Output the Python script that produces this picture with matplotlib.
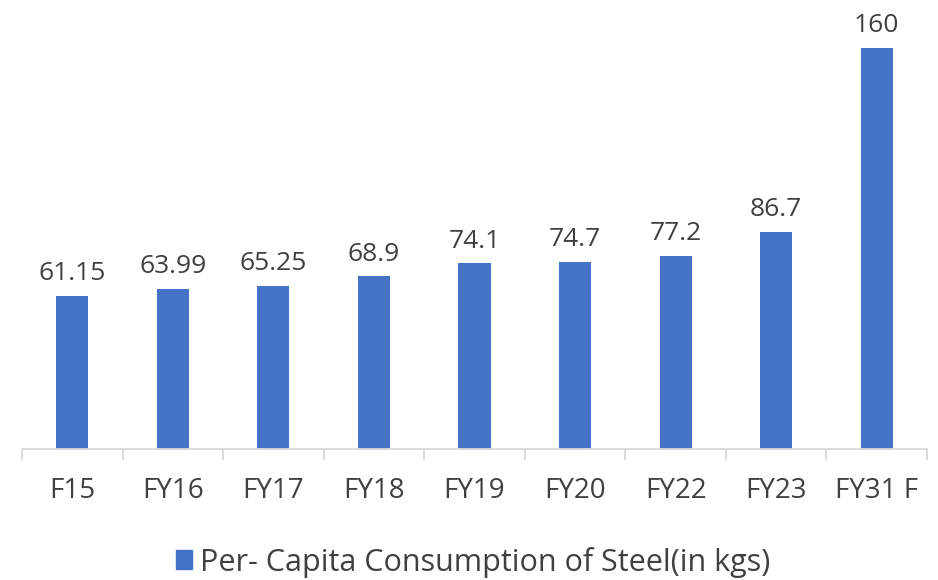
import matplotlib.pyplot as plt
import numpy as np
from matplotlib.patches import Patch

categories = ['F15', 'FY16', 'FY17', 'FY18', 'FY19', 'FY20', 'FY22', 'FY23', 'FY31 F']
values = [61.15, 63.99, 65.25, 68.9, 74.1, 74.7, 77.2, 86.7, 160]
labels = ['61.15', '63.99', '65.25', '68.9', '74.1', '74.7', '77.2', '86.7', '160']
series_name = 'Per- Capita Consumption of Steel(in kgs)'

bar_color = '#4472C4'
text_color = '#404040'
grid_color = '#D9D9D9'

plt.rcParams['font.family'] = ['Open Sans', 'DejaVu Sans']

fig = plt.figure(figsize=(9.38, 5.8), dpi=100)
ax = fig.add_axes([22 / 938, 1 - 449 / 580, 905 / 938, 449 / 580])

x = np.arange(len(categories))
ax.bar(x, values, width=0.32, color=bar_color)
for xi, v, lab in zip(x, values, labels):
    ax.annotate(lab, (xi, v), xytext=(0, 7), textcoords='offset points',
                ha='center', va='bottom', fontsize=19, color=text_color)

ax.set_xlim(-0.5, len(categories) - 0.5)
ax.set_ylim(0, 179.2)
ax.set_yticks([])
ax.set_xticks(x)
ax.set_xticklabels(categories, fontsize=20, color=text_color)
ax.set_xticks(np.arange(-0.5, len(categories)), minor=True)
ax.tick_params(axis='x', which='major', length=0, pad=20)
ax.tick_params(axis='x', which='minor', length=8, color=grid_color, width=1.3)

for s in ['top', 'right', 'left']:
    ax.spines[s].set_visible(False)
ax.spines['bottom'].set_color(grid_color)
ax.spines['bottom'].set_linewidth(1.3)

handle = Patch(color=bar_color)
fig.legend([handle], [series_name], loc='center', bbox_to_anchor=(473 / 938, 1 - 562 / 580),
           frameon=False, fontsize=22, handlelength=0.55, handleheight=0.55,
           handletextpad=0.25, labelcolor=text_color)

fig.savefig('out.png', dpi=100)
